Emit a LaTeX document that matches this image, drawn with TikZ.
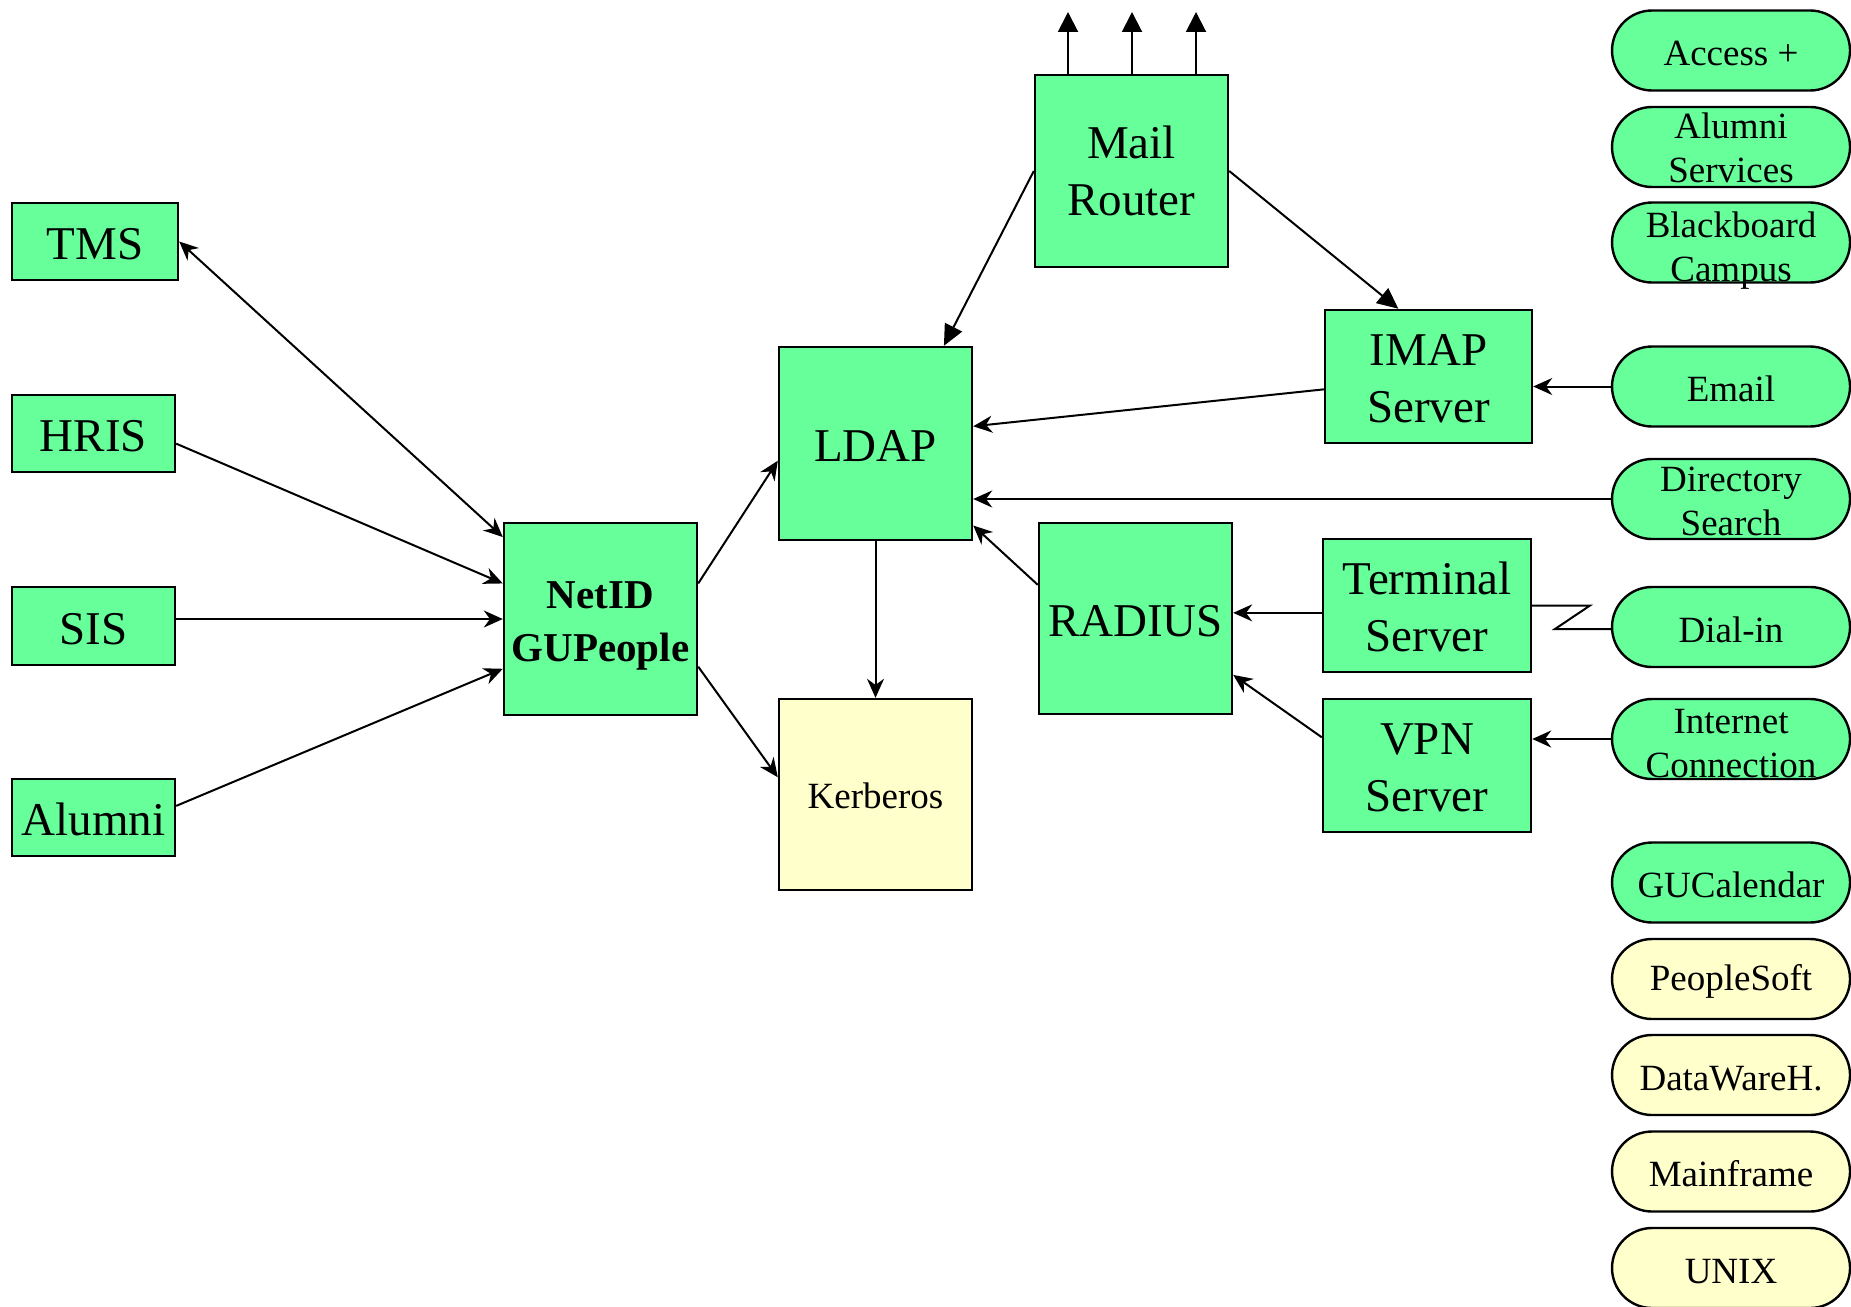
\documentclass[tikz,border=0pt]{standalone}
\usepackage{fontspec}
\setmainfont{Liberation Serif}
\usepackage{xcolor}
\usetikzlibrary{arrows.meta}
\definecolor{customgreen}{HTML}{66FF99}
\definecolor{customyellow}{HTML}{FFFFCC}
\newcommand{\capstrut}[1]{\rule{0pt}{#1}}

\tikzset{
    greenbox/.style = {fill = customgreen, draw, rectangle, line width = 2.4pt, inner sep = 0pt, align = center, font = \fontsize{47}{57}\selectfont},
    boxone/.style = {greenbox, text height = 37pt},
    pill/.style = {draw, rectangle, rounded corners = 40pt, line width = 2.4pt, minimum width = 238pt, minimum height = 80pt, inner sep = 0pt, align = center, font = \fontsize{37}{44}\selectfont},
    pillone/.style = {pill, text height = 31pt},
    link/.style = {->, line width = 2pt},
}

\begin{document}
\begin{tikzpicture}[x = 1pt, y = -1pt, > = {Stealth[length = 19pt, width = 17pt]}]

        \useasboundingbox (0, 0) rectangle (1851, 1306);

        % Sources
        \node [boxone, minimum width = 166pt, minimum height = 77pt] (tms) at (95, 241.5) {TMS};
        \node [boxone, minimum width = 163pt, minimum height = 77pt] (hris) at (93.5, 433.5) {HRIS};
        \node [boxone, minimum width = 163pt, minimum height = 78pt] (sis) at (93.5, 626) {SIS};
        \node [boxone, minimum width = 163pt, minimum height = 77pt] (alumni) at (93.5, 817.5) {Alumni};

        \node [greenbox, minimum width = 193pt, minimum height = 192pt, font = \bfseries\fontsize{41}{53}\selectfont] (netid) at (600.5, 619) {\capstrut{40pt}NetID\\GUPeople};
        \node [boxone, minimum width = 193pt, minimum height = 193pt] (ldap) at (875.5, 443.5) {LDAP};
        \node [boxone, fill = customyellow, minimum width = 193pt, minimum height = 191pt, text height = 29pt, font = \fontsize{37}{44}\selectfont] (kerb) at (875.5, 794.5) {Kerberos};
        \node [greenbox, minimum width = 193pt, minimum height = 192pt] (mail) at (1131.5, 171) {\capstrut{33pt}Mail\\Router};
        \node [boxone, minimum width = 193pt, minimum height = 191pt] (radius) at (1135.5, 618.5) {RADIUS};
        \node [greenbox, minimum width = 207pt, minimum height = 133pt] (imap) at (1428.5, 376.5) {\capstrut{36pt}IMAP\\Server};
        \node [greenbox, minimum width = 208pt, minimum height = 133pt] (term) at (1427, 605.5) {\capstrut{36pt}Terminal\\Server};
        \node [greenbox, minimum width = 208pt, minimum height = 133pt] (vpn) at (1427, 765.5) {\capstrut{36pt}VPN\\Server};

        % Services
        \node [pillone, fill = customgreen] (access) at (1731, 50.5) {Access +};
        \node [pill, fill = customgreen] (alumserv) at (1731, 147) {\capstrut{28pt}Alumni\\Services};
        \node [pill, fill = customgreen] (board) at (1731, 242.5) {\capstrut{35pt}Blackboard\\Cam\smash{p}us};
        \node [pillone, fill = customgreen] (email) at (1731, 386.5) {Email};
        \node [pill, fill = customgreen] (dirsearch) at (1731, 499) {\capstrut{29.5pt}Directory\\Search};
        \node [pillone, fill = customgreen] (dialin) at (1731, 627) {Dial-in};
        \node [pill, fill = customgreen] (inet) at (1731, 739) {\capstrut{32.5pt}Internet\\Connection};
        \node [pillone, fill = customgreen] (gucal) at (1731, 882.5) {GUCalendar};
        \node [pillone, fill = customyellow] (psoft) at (1731, 979) {PeopleSoft};
        \node [pillone, fill = customyellow] (dwh) at (1731, 1075) {DataWareH.};
        \node [pillone, fill = customyellow] (mframe) at (1731, 1171.5) {Mainframe};
        \node [pillone, fill = customyellow] (unix) at (1731, 1268) {UNIX};

        % Feeds into NetID
        \draw [link, <->] (tms.east) -- (netid.140);
        \draw [link] (hris.-7) -- (netid.160);
        \draw [link] (sis.east |- netid.west) -- (netid.west);
        \draw [link] (alumni.8) -- (netid.207);

        % NetID out
        \draw [link] (netid.20) -- (ldap.190);
        \draw [link] (netid.-26) -- (kerb.170);
        \draw [link] (ldap) -- (kerb);

        % Mail Router
        \draw [line width = 2pt, -{Triangle[length = 21pt, width = 19pt]}] (mail.west) -- (ldap.55);
        \draw [line width = 2pt, -{Triangle[length = 21pt, width = 19pt]}] (mail.east) -- (imap.114);
        \foreach \i/\x in {1/1068, 2/1132, 3/1196} {
            \coordinate (mailout\i) at (\x, 12);
            \draw [line width = 2pt, -{Triangle[length = 20pt, width = 20pt]}] (mailout\i |- mail.north) -- (mailout\i);
        }

        % Into LDAP
        \draw [link] (imap.187) -- (ldap.10);
        \draw [link] (dirsearch.west) -- (dirsearch.west -| ldap.east);
        \draw [link] (radius.161) -- (ldap.-40);

        % Access paths
        \draw [link] (email.west) -- (email.west -| imap.east);
        \draw [link] (term.184) -- (term.184 -| radius.east);
        \draw [link] (vpn.165) -- (radius.-30);
        \draw [link] (inet.west) -- (inet.west -| vpn.east);
        \draw [line width = 2pt] (term.east) -- (1590, 605.5) -- (1555, 629) -- (1555, 629 -| dialin.west);

    \end{tikzpicture}
\end{document}
